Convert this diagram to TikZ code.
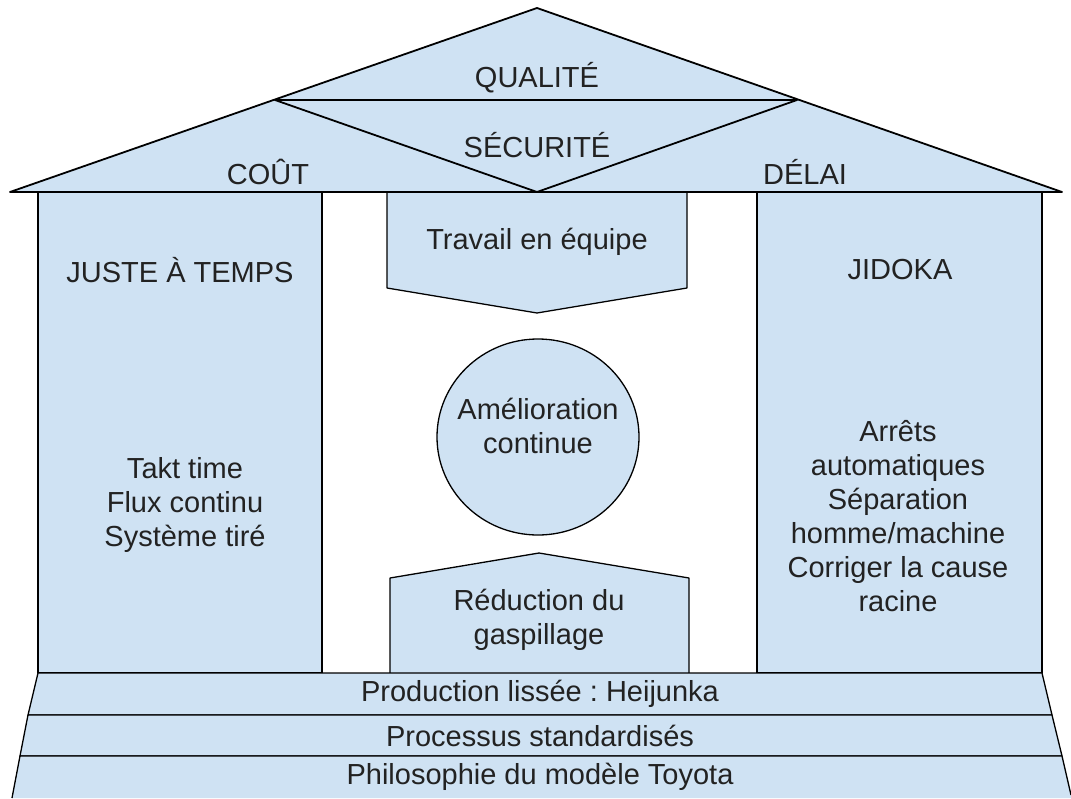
\documentclass[tikz,border=0pt]{standalone}
\usepackage{fontspec}
\setmainfont{Liberation Sans}
\usepackage{tikz}
\definecolor{paleblue}{HTML}{CFE2F3}
\definecolor{inkgray}{HTML}{222222}
\frenchspacing

\begin{document}
\begin{tikzpicture}[x=1pt, y=-1pt,
    part/.style={fill=paleblue, draw=black, line width=1.3pt, line join=round},
    label/.style={font=\fontsize{29}{34}\selectfont, align=center, text=inkgray, inner sep=0pt}]
    \useasboundingbox (0,0) rectangle (1071,798);

    % Pillars
    \draw[part] (38,192) rectangle (322,673);
    \draw[part] (757,192) rectangle (1042,673);

    % Centre column
    \draw[part] (387,192) -- (687,192) -- (687,288) -- (537,313) -- (387,288) -- cycle;
    \draw[part] (538,437) ellipse (101 and 98);
    \draw[part] (390,673) -- (390,578) -- (539,553) -- (689,578) -- (689,673);

    % Foundations
    \draw[part] (38,673) -- (1042,673) -- (1052,715) -- (28,715) -- cycle;
    \draw[part] (28,715) -- (1052,715) -- (1062,756) -- (20,756) -- cycle;
    \fill[paleblue] (20,756) -- (1062,756) -- (1072,798) -- (12,798) -- cycle;
    \draw[line width=1.3pt, line join=round] (12,798) -- (20,756) -- (1062,756) -- (1071,795);

    % Roof
    \draw[part, line width=1.8pt] (10,192) -- (537,8) -- (1062,192) -- cycle;
    \draw[line width=1.8pt, line join=round] (275,100) -- (797,100) -- (537,192) -- cycle;

    % Texts
    \node[label] (qualite) at (537,78) {QUALITÉ};
    \node[label] (securite) at (537,145) {SÉCURITÉ};
    \node[label] (cout) at (268,172) {COÛT};
    \node[label] (delai) at (805,172) {DÉLAI};

    \node[label] (jat) at (180,270) {JUSTE À TEMPS};
    \node[label] (jatlist) at (185,505) {Takt time\\Flux continu\\Système tiré};
    \node[label] (jidoka) at (900,270) {JIDOKA};
    \node[label] (jidlist) at (898,516) {Arrêts\\automatiques\\Séparation\\homme/machine\\Corriger la cause\\racine};

    \node[label] (equipe) at (537,242) {Travail en équipe};
    \node[label] (amelio) at (538,426) {Amélioration\\continue};
    \node[label] (reduc) at (539,620) {Réduction du\\gaspillage};

    \node[label] (heijunka) at (540,694) {Production lissée : Heijunka};
    \node[label] (standard) at (540,736) {Processus standardisés};
    \node[label] (philo) at (540,777) {Philosophie du modèle Toyota};
\end{tikzpicture}
\end{document}
